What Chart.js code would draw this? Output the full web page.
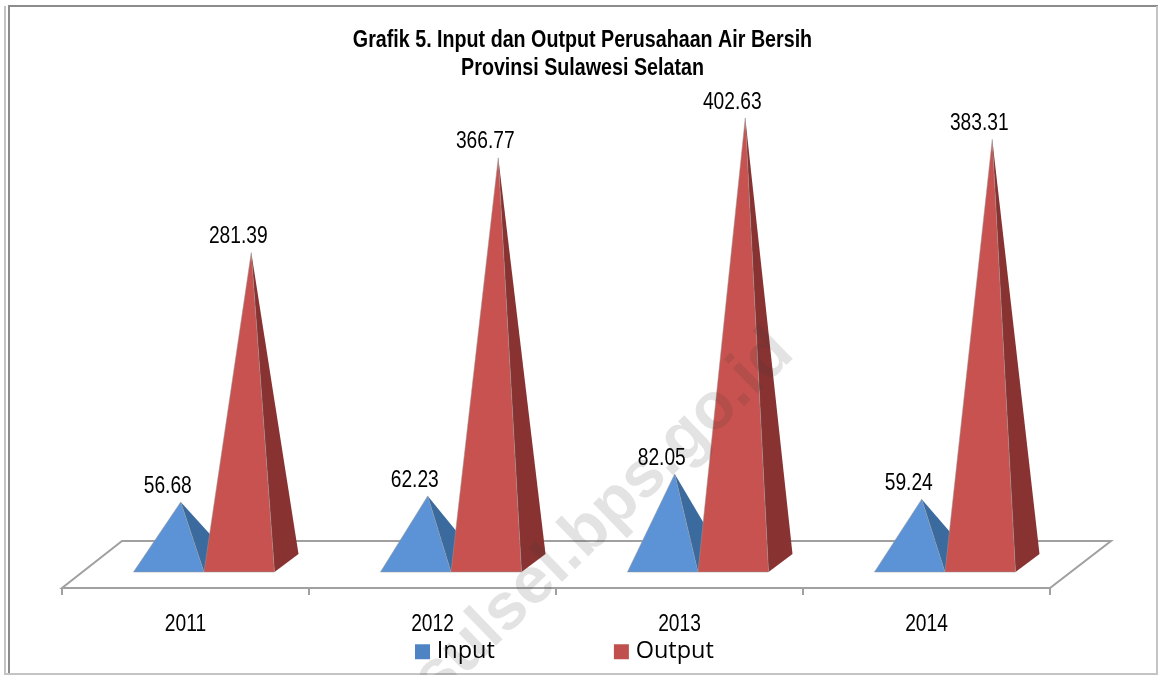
<!DOCTYPE html>
<html>
<head>
<meta charset="utf-8">
<title>Grafik 5</title>
<script src="https://cdn.jsdelivr.net/npm/chart.js@4/dist/chart.umd.min.js"></script>
<style>
    html, body { margin: 0; padding: 0; background: #fff; overflow: hidden; }
    canvas { display: block; }
</style>
</head>
<body>
<canvas id="chart" width="1158" height="675"></canvas>
<script>
const years = ['2011', '2012', '2013', '2014'];
const inputValues = [56.68, 62.23, 82.05, 59.24];
const outputValues = [281.39, 366.77, 402.63, 383.31];
const titleLines = ['Grafik 5. Input dan Output Perusahaan Air Bersih', 'Provinsi Sulawesi Selatan'];
const watermark = 'sulsel.bps.go.id';

const narrow = '"Liberation Sans", sans-serif';
const legendFont = '"Open Sans", sans-serif';
const shiftX = 18.5;  // pyramids stand further back on the floor than the axis
const depthX = 24;    // how far the back corner of a pyramid sits from its front corner
const frontDrop = 7;  // front edge below the zero line
const backRise = 11;  // back edge above the zero line

const canvas = document.getElementById('chart');
const context = canvas.getContext('2d');

// no narrow font is installed, so squeeze the Liberation text when it is painted
const rawFillText = context.fillText.bind(context);
let squeeze = true;
context.fillText = function (text, x, y) {
    const font = context.font;
    if (font.includes('Open Sans')) {
        rawFillText(text, x - 5, y);
    } else if (squeeze) {
        context.save();
        context.translate(x, y);
        context.scale(font.startsWith('bold') ? 0.82 : 0.8, 1);
        rawFillText(text, 0, 0);
        context.restore();
    } else {
        rawFillText(text, x, y);
    }
};

function drawPyramids(meta, front, side, ctx) {
    meta.data.forEach((bar, i) => {
        const left = bar.x + shiftX - bar.width / 2;
        const right = bar.x + shiftX + bar.width / 2;
        const apexX = bar.x + shiftX + depthX / 2;
        const frontY = bar.base + frontDrop;

        ctx.fillStyle = side;
        ctx.beginPath();
        ctx.moveTo(right, frontY);
        ctx.lineTo(right + depthX, bar.base - backRise);
        ctx.lineTo(apexX, bar.y);
        ctx.closePath();
        ctx.fill();

        ctx.fillStyle = front;
        ctx.strokeStyle = 'rgba(150,150,150,0.5)';
        ctx.lineWidth = 1;
        ctx.beginPath();
        ctx.moveTo(left, frontY);
        ctx.lineTo(right, frontY);
        ctx.lineTo(apexX, bar.y);
        ctx.closePath();
        ctx.fill();
        ctx.stroke();

        ctx.fillStyle = '#000';
        ctx.font = '24px ' + narrow;
        ctx.textAlign = 'center';
        ctx.textBaseline = 'middle';
        ctx.fillText(meta.controller.getDataset().data[i].toFixed(2), apexX - 13, bar.y - 16);
    });
}

// bars are drawn as pyramids, Input first so Output covers its side
class PyramidController extends Chart.BarController {
    draw() {
        if (this.index !== 0) return;
        const chart = this.chart;
        chart.data.datasets.forEach((ds, i) => {
            drawPyramids(chart.getDatasetMeta(i), ds.frontColor, ds.sideColor, chart.ctx);
        });
    }
}
PyramidController.id = 'pyramid';
PyramidController.defaults = Chart.BarController.defaults;
Chart.register(PyramidController);

const floorPlugin = {
    id: 'floor',
    beforeDatasetsDraw(chart) {
        const ctx = chart.ctx;
        const area = chart.chartArea;
        const frontY = area.bottom + 23;
        const backY = area.bottom - 24;
        ctx.save();
        ctx.strokeStyle = '#a0a0a0';
        ctx.lineWidth = 2;
        ctx.beginPath();
        ctx.moveTo(area.left, frontY);
        ctx.lineTo(area.right, frontY);
        ctx.lineTo(area.right + 61, backY);
        ctx.lineTo(area.left + 60, backY);
        ctx.closePath();
        ctx.stroke();
        // tick marks between the years
        for (let i = 0; i <= years.length; i++) {
            const x = area.left + (area.right - area.left) * i / years.length;
            ctx.beginPath();
            ctx.moveTo(x, frontY);
            ctx.lineTo(x, frontY + 7);
            ctx.stroke();
        }
        ctx.restore();
    },
    afterDraw(chart) {
        const ctx = chart.ctx;
        ctx.save();
        // page frame
        ctx.strokeStyle = '#8c8c8c';
        ctx.lineWidth = 2;
        ctx.beginPath();
        ctx.moveTo(9, 675);
        ctx.lineTo(9, 6);
        ctx.lineTo(1158, 6);
        ctx.stroke();
        ctx.strokeStyle = '#c4c4c4';
        ctx.lineWidth = 2;
        ctx.beginPath();
        ctx.moveTo(5, 675);
        ctx.lineTo(5, 6);
        ctx.moveTo(1157, 6);
        ctx.lineTo(1157, 674);
        ctx.lineTo(5, 674);
        ctx.stroke();
        // watermark
        squeeze = false;
        ctx.translate(604, 516);
        ctx.rotate(-44 * Math.PI / 180);
        ctx.fillStyle = 'rgba(60,60,60,0.14)';
        ctx.font = 'bold 66px "Liberation Sans", sans-serif';
        ctx.textAlign = 'center';
        ctx.textBaseline = 'middle';
        ctx.fillText(watermark, 0, 0);
        squeeze = true;
        ctx.restore();
    },
    afterLayout(chart) {
        // legend sits in its own spot under the axis labels
        const legend = chart.legend;
        const gap = legend.options.labels.padding;
        legend.left = 415 - gap;
        legend.right = 1150;
        legend.top = 640 - gap;
    }
};

new Chart(canvas, {
    type: 'pyramid',
    data: {
        labels: years,
        datasets: [
            { label: 'Input', data: inputValues, backgroundColor: '#4f84c4', frontColor: '#5b93d6', sideColor: '#3b6a9f', clip: false },
            { label: 'Output', data: outputValues, backgroundColor: '#c0504d', frontColor: '#c8524f', sideColor: '#883331', clip: false }
        ]
    },
    options: {
        responsive: false,
        animation: false,
        categoryPercentage: 0.571,
        barPercentage: 1,
        layout: { padding: { left: 7, right: 0, top: 26, bottom: 0 } },
        plugins: {
            tooltip: { enabled: false },
            title: {
                display: true,
                text: titleLines,
                color: '#000',
                font: { family: narrow, size: 24, weight: 'bold', lineHeight: 28 / 24 },
                padding: 0
            },
            legend: {
                position: 'bottom',
                align: 'start',
                maxHeight: 30,
                labels: {
                    boxWidth: 15,
                    boxHeight: 15,
                    padding: 114,
                    color: '#000',
                    font: { family: legendFont, size: 23.5 }
                }
            }
        },
        scales: {
            x: {
                offset: true,
                grid: { display: false },
                border: { display: false },
                ticks: { color: '#000', padding: 37, font: { family: narrow, size: 24 } },
                afterFit(scale) { scale.height = 80; }
            },
            y: {
                min: 0,
                max: 435,
                grid: { display: false },
                border: { display: false },
                ticks: { display: false },
                afterFit(scale) { scale.width = 55; }
            },
            // empty axis, only keeps the floor clear of the right edge
            spare: {
                type: 'linear',
                position: 'right',
                grid: { display: false },
                border: { display: false },
                ticks: { display: false },
                afterFit(scale) { scale.width = 108; }
            }
        }
    },
    plugins: [floorPlugin]
});
</script>
</body>
</html>
